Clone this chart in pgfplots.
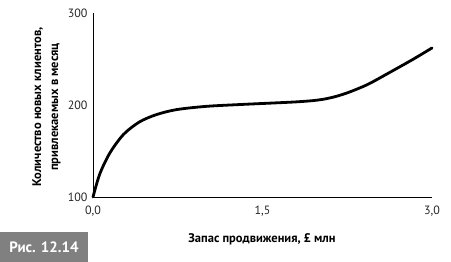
\documentclass[border=0pt]{standalone}
\usepackage{pgfplots}
\pgfplotsset{compat=1.18}
\usepackage{fontspec}
\setmainfont{PT Sans}
\begin{document}
\begin{tikzpicture}[x=1pt,y=1pt]
\path[use as bounding box] (0,0) rectangle (451,262);
\begin{axis}[
  at={(93pt,65pt)}, anchor=origin,
  scale only axis, width=339pt, height=184pt,
  xmin=0, xmax=3, ymin=100, ymax=300,
  axis lines=left, axis line style={line width=0.9pt, -},
  xtick={0,1.5,3}, xticklabels={{0,0},{1,5},{3,0}},
  ytick={100,200,300}, yticklabels={100,200,300},
  major tick length=0pt,
  tick label style={font=\fontsize{12}{13}\selectfont, text=black!85},
  xticklabel style={yshift=-5pt},
  yticklabel style={xshift=-2pt},
  clip=false,
]
\addplot[line width=2.8pt, smooth, tension=0.5, line cap=round] coordinates {
(0,100) (0.06,125) (0.15,148) (0.27,168) (0.41,181.5) (0.56,189.5) (0.74,195)
(1.0,198.5) (1.3,200.5) (1.6,202.2) (1.8,203.4) (1.95,204.8) (2.05,206.5)
(2.15,209.3) (2.25,213.2) (2.35,218) (2.45,223.5) (2.62,235) (2.83,249.5) (3.0,262)};
\end{axis}
\node[font=\bfseries\fontsize{12.5}{14}\selectfont] at (262,23) {Запас продвижения, £ млн};
\node[font=\bfseries\fontsize{12.5}{17}\selectfont, rotate=90, align=center] at (46.5,155) {Количество новых клиентов,\\ привлекаемых в месяц};
\fill[black!50] (0,0) rectangle (88,30);
\node[font=\bfseries\fontsize{15}{17}\selectfont, text=white] at (44,15) {Рис. 12.14};
\end{tikzpicture}
\end{document}
